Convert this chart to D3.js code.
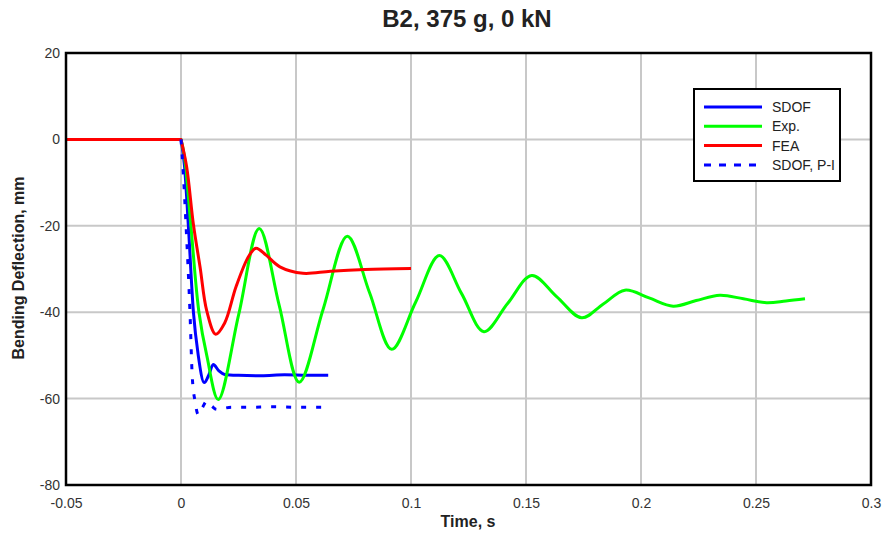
<!DOCTYPE html>
<html>
<head>
<meta charset="utf-8">
<script src="https://cdn.jsdelivr.net/npm/d3@7"></script>
<style>
  html, body { margin: 0; padding: 0; background: #fff; }
  svg { display: block; font-family: "Liberation Sans", Arial, sans-serif; }
</style>
</head>
<body>
<svg id="chart" width="882" height="534"></svg>
<script>
// Bending deflection histories (time in s, deflection in mm)
const sdofT = [0, 0.0015, 0.0032, 0.0054, 0.0075, 0.0101, 0.0121, 0.014, 0.0165, 0.019, 0.025, 0.035, 0.045, 0.055, 0.064];
const sdofV = [0, -6, -20, -40, -50, -56.3, -54.5, -52.1, -53.6, -54.4, -54.6, -54.7, -54.5, -54.6, -54.6];

const expT = [-0.05, 0, 0.0015, 0.0043, 0.0078, 0.0112, 0.0162, 0.0251, 0.034, 0.0427, 0.0514, 0.0618, 0.0723, 0.082, 0.0916, 0.102, 0.1123, 0.122, 0.1317, 0.142, 0.1525, 0.1633, 0.1742, 0.1836, 0.193, 0.2035, 0.214, 0.224, 0.2343, 0.2445, 0.2546, 0.263, 0.2713];
const expV = [0, 0, -4, -20, -40, -50, -60.2, -40.5, -20.6, -38.4, -56.2, -39.3, -22.4, -35.5, -48.6, -37.7, -26.9, -35.7, -44.5, -38, -31.5, -36.4, -41.3, -38.1, -34.9, -36.7, -38.6, -37.3, -36.1, -36.9, -37.8, -37.4, -36.9];

const feaT = [-0.05, 0, 0.0025, 0.0054, 0.0083, 0.0112, 0.0151, 0.019, 0.024, 0.0295, 0.0326, 0.037, 0.043, 0.053, 0.065, 0.08, 0.1];
const feaV = [0, 0, -6.5, -19.7, -29.6, -39.7, -45.1, -42.5, -34, -27, -25.2, -26.8, -29.5, -31, -30.5, -30.1, -29.9];

const pilT = [0, 0.001, 0.0022, 0.0039, 0.0049, 0.0061, 0.0075, 0.0092, 0.0112, 0.0135, 0.0155, 0.022, 0.03, 0.04, 0.05, 0.064];
const pilV = [0, -8, -20, -40, -55, -60.6, -63.7, -62.2, -60.6, -61.8, -62.5, -62, -62, -61.9, -62, -62];

const xTicks = [-0.05, 0, 0.05, 0.1, 0.15, 0.2, 0.25, 0.3];
const yTicks = [20, 0, -20, -40, -60, -80];
const seriesNames = ["SDOF", "Exp.", "FEA", "SDOF, P-I"];
const seriesColors = ["#0000ff", "#00ff00", "#ff0000", "#0000ff"];

const svg = d3.select("#chart");
const m = { left: 66, right: 871, top: 53, bottom: 485 };

const x = d3.scaleLinear().domain([-0.05, 0.3]).range([m.left, m.right]);
const y = d3.scaleLinear().domain([-80, 20]).range([m.bottom, m.top]);

// grid
const grid = svg.append("g").attr("stroke", "#c8c8c8").attr("stroke-width", 2);
xTicks.slice(1, -1).forEach(t => grid.append("line")
  .attr("x1", x(t)).attr("x2", x(t)).attr("y1", m.top).attr("y2", m.bottom));
yTicks.slice(1, -1).forEach(t => grid.append("line")
  .attr("x1", m.left).attr("x2", m.right).attr("y1", y(t)).attr("y2", y(t)));

// axes (labels only; the frame is drawn separately)
const xAxis = d3.axisBottom(x).tickValues(xTicks).tickSize(0).tickPadding(13)
  .tickFormat(d => String(+d.toFixed(2)));
const gx = svg.append("g").attr("transform", `translate(0,${m.bottom})`).call(xAxis);
const yAxis = d3.axisLeft(y).tickValues(yTicks).tickSize(0).tickPadding(6)
  .tickFormat(d => String(d));
const gy = svg.append("g").attr("transform", `translate(${m.left},0)`).call(yAxis);
[gx, gy].forEach(g => {
  g.select(".domain").remove();
  g.selectAll("text").attr("fill", "#333").style("font-size", "14px")
    .style("font-family", "'Liberation Sans', Arial, sans-serif");
});

// curves: the resting segment before impact is straight, the response is smoothed
const flat = d3.line().x(d => x(d[0])).y(d => y(d[1]));
const sharp = d3.line().x(d => x(d[0])).y(d => y(d[1])).curve(d3.curveMonotoneX);
const smooth = d3.line().x(d => x(d[0])).y(d => y(d[1])).curve(d3.curveCatmullRom.alpha(0.5));
function pathOf(ts, vs, gen) {
  const pts = ts.map((t, i) => [t, vs[i]]);
  const pre = pts.filter(p => p[0] <= 0);
  const post = pts.filter(p => p[0] >= 0);
  const tail = gen(post);
  return pre.length > 1 ? flat(pre) + "L" + tail.slice(1) : tail;
}
const plot = svg.append("g");
function draw(ts, vs, color, gen, dash) {
  plot.append("path")
    .attr("d", pathOf(ts, vs, gen))
    .attr("fill", "none")
    .attr("stroke", color)
    .attr("stroke-width", 3)
    .attr("stroke-linejoin", "round")
    .attr("stroke-dasharray", dash || null);
}
draw(sdofT, sdofV, seriesColors[0], sharp);
draw(expT, expV, seriesColors[1], smooth);
draw(feaT, feaV, seriesColors[2], smooth);
draw(pilT, pilV, seriesColors[3], sharp, "5,10");

// frame
svg.append("rect").attr("x", m.left).attr("y", m.top)
  .attr("width", m.right - m.left).attr("height", m.bottom - m.top)
  .attr("fill", "none").attr("stroke", "#000").attr("stroke-width", 2.5);

// legend
const lg = svg.append("g").attr("transform", "translate(694,89)");
lg.append("rect").attr("width", 146).attr("height", 92)
  .attr("fill", "#fff").attr("stroke", "#000").attr("stroke-width", 2);
seriesNames.forEach((name, i) => {
  const yy = 18 + i * 19.3;
  lg.append("line").attr("x1", 10).attr("x2", 68).attr("y1", yy).attr("y2", yy)
    .attr("stroke", seriesColors[i]).attr("stroke-width", 3)
    .attr("stroke-dasharray", i === 3 ? "7,8" : null);
  lg.append("text").attr("x", 78).attr("y", yy + 5).text(name)
    .attr("fill", "#222").style("font-size", "14px");
});

// titles
svg.append("text").attr("x", 467).attr("y", 27).attr("text-anchor", "middle")
  .style("font-size", "24px").style("font-weight", "bold").attr("fill", "#222")
  .text("B2, 375 g, 0 kN");
svg.append("text").attr("x", 468).attr("y", 527).attr("text-anchor", "middle")
  .style("font-size", "16px").style("font-weight", "bold").attr("fill", "#222")
  .text("Time, s");
svg.append("text").attr("transform", "translate(24,268) rotate(-90)").attr("text-anchor", "middle")
  .style("font-size", "16px").style("font-weight", "bold").attr("fill", "#222")
  .text("Bending Deflection, mm");
</script>
</body>
</html>
